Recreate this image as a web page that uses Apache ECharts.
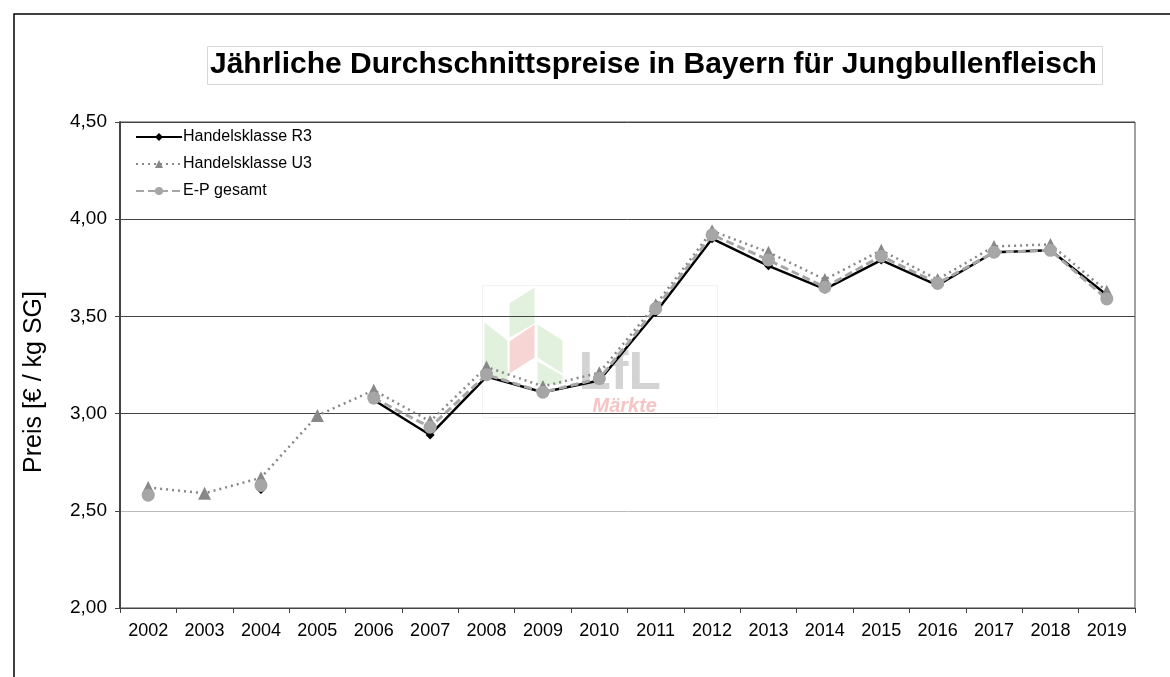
<!DOCTYPE html>
<html>
<head>
<meta charset="utf-8">
<title>Jungbullenfleisch Preise</title>
<script src="https://cdn.jsdelivr.net/npm/echarts@6/dist/echarts.min.js"></script>
<style>
  html, body { margin: 0; padding: 0; background: #fff; }
  #chart { width: 1170px; height: 677px; }
</style>
</head>
<body>
<div id="chart"></div>
<script>
// Jahre (x-Achse)
const years = ['2002', '2003', '2004', '2005', '2006', '2007', '2008', '2009', '2010',
  '2011', '2012', '2013', '2014', '2015', '2016', '2017', '2018', '2019']

// Preise in € / kg SG
const r3 = [2.58, null, 2.61, null, 3.07, 2.89, 3.19, 3.11, 3.17,
  3.52, 3.90, 3.76, 3.64, 3.79, 3.66, 3.83, 3.84, 3.61]
const u3 = [2.62, 2.59, 2.67, 2.99, 3.12, 2.96, 3.24, 3.14, 3.21,
  3.56, 3.94, 3.83, 3.69, 3.84, 3.69, 3.86, 3.87, 3.63]
const ep = [2.58, null, 2.63, null, 3.08, 2.93, 3.20, 3.11, 3.18,
  3.54, 3.92, 3.79, 3.65, 3.81, 3.67, 3.83, 3.84, 3.59]

const yTicks = [2, 2.5, 3, 3.5, 4, 4.5]

const chart = echarts.init(document.getElementById('chart'))
const fnt = 'Liberation Sans, Arial, sans-serif'

chart.setOption({
  backgroundColor: '#fff',
  animation: false,
  textStyle: { fontFamily: fnt },
  title: {
    text: 'Jährliche Durchschnittspreise in Bayern für Jungbullenfleisch',
    left: 207,
    top: 46,
    padding: [4, 6, 5, 3],
    borderColor: '#d8d8d8',
    borderWidth: 1,
    backgroundColor: '#fff',
    textStyle: {
      fontFamily: fnt,
      fontSize: 30,
      fontWeight: 'bold',
      color: '#000'
    }
  },
  legend: {
    orient: 'vertical',
    left: 130,
    top: 124,
    itemWidth: 46,
    itemHeight: 10,
    itemGap: 11,
    textStyle: { fontSize: 16, color: '#000', fontFamily: fnt, padding: [0, 0, 0, -4] },
    data: ['Handelsklasse R3', 'Handelsklasse U3', 'E-P gesamt']
  },
  grid: {
    left: 120,
    right: 35,
    top: 122,
    bottom: 69,
    show: true,
    borderColor: '#444',
    borderWidth: 1
  },
  xAxis: {
    type: 'category',
    data: years,
    boundaryGap: true,
    axisLine: { lineStyle: { color: '#444', width: 1 } },
    axisTick: { show: true, length: 5, lineStyle: { color: '#444' } },
    axisLabel: { fontSize: 18, color: '#000', margin: 14, fontFamily: fnt }
  },
  yAxis: {
    type: 'value',
    min: yTicks[0],
    max: yTicks[yTicks.length - 1],
    interval: 0.5,
    name: 'Preis [€ / kg SG]',
    nameLocation: 'middle',
    nameGap: 73,
    nameTextStyle: { fontSize: 25, color: '#000', fontFamily: fnt, padding: [0, 34, 0, 0] },
    axisLine: { show: true, lineStyle: { color: '#444', width: 2 } },
    axisTick: { show: true, length: 5, lineStyle: { color: '#444' } },
    axisLabel: {
      fontSize: 19,
      color: '#000',
      margin: 13,
      fontFamily: fnt,
      formatter: v => v.toFixed(2).replace('.', ',')
    },
    splitLine: {
      show: true,
      lineStyle: { color: ['#444', '#bbb', '#444', '#444', '#444', '#444'], width: 1 }
    }
  },
  graphic: [
    // Rahmen
    {
      type: 'rect',
      shape: { x: 14, y: 14, width: 1200, height: 700 },
      style: { fill: null, stroke: '#000', lineWidth: 1.5 },
      silent: true
    },
    // Logo (Wasserzeichen)
    {
      type: 'group',
      left: 480,
      top: 283,
      silent: true,
      z: -1,
      children: [
        { type: 'rect', shape: { x: 0, y: 0, width: 235, height: 132 }, style: { fill: null, stroke: '#f3f3f3' } },
        { type: 'polygon', shape: { points: [[27, 18], [52, 2], [52, 38], [27, 52]] }, style: { fill: '#e2f1de' } },
        { type: 'polygon', shape: { points: [[2, 37], [25, 55], [25, 99], [2, 82]] }, style: { fill: '#e2f1de' } },
        { type: 'polygon', shape: { points: [[27, 56], [52, 39], [52, 72], [27, 88]] }, style: { fill: '#f8d5d5' } },
        { type: 'polygon', shape: { points: [[55, 39], [80, 55], [80, 88], [55, 72]] }, style: { fill: '#e2f1de' } },
        { type: 'polygon', shape: { points: [[55, 76], [80, 90], [80, 99], [55, 99]] }, style: { fill: '#e2f1de' } },
        { type: 'text', style: { x: 96, y: 62, text: 'LfL', fill: '#d3d3d3', font: 'bold 53px ' + fnt } },
        { type: 'text', style: { x: 110, y: 111, text: 'Märkte', fill: '#f6c4c4', font: 'italic bold 20px ' + fnt } }
      ]
    }
  ],
  series: [
    {
      name: 'Handelsklasse R3',
      type: 'line',
      data: r3,
      connectNulls: false,
      symbol: 'diamond',
      symbolSize: 9,
      itemStyle: { color: '#000' },
      lineStyle: { color: '#000', width: 2.5 },
      z: 2
    },
    {
      name: 'Handelsklasse U3',
      type: 'line',
      data: u3,
      symbol: 'triangle',
      symbolSize: 13,
      itemStyle: { color: '#888' },
      lineStyle: { color: '#888', width: 2.5, type: [2, 4] },
      z: 3
    },
    {
      name: 'E-P gesamt',
      type: 'line',
      data: ep,
      connectNulls: false,
      symbol: 'circle',
      symbolSize: 13,
      itemStyle: { color: '#a6a6a6' },
      lineStyle: { color: '#a6a6a6', width: 3, type: [8, 4] },
      z: 4
    }
  ]
})
</script>
</body>
</html>
